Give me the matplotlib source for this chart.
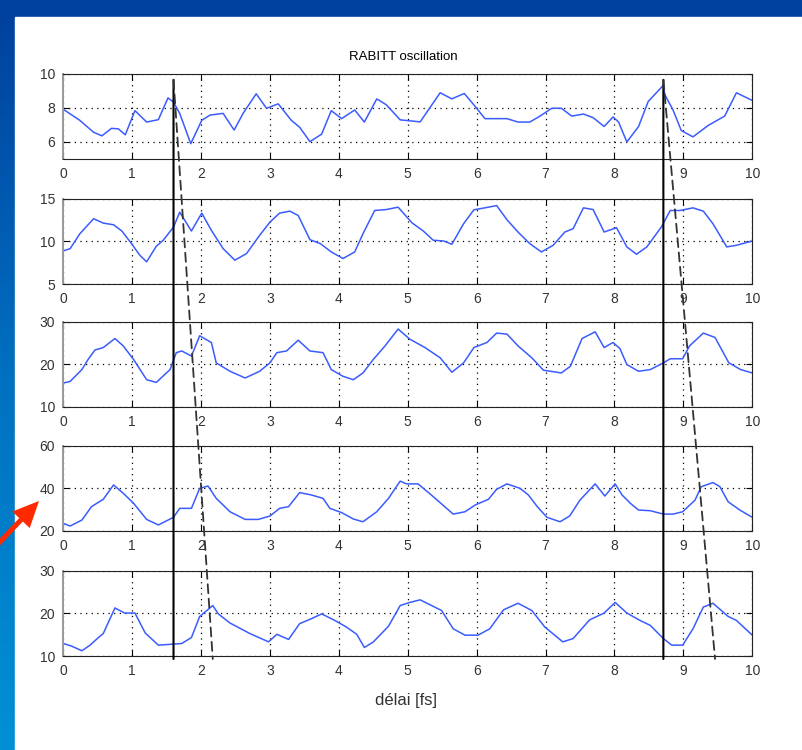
########################################################
# RABITT oscillation - five stacked traces vs delay
import numpy as np
import matplotlib.pyplot as plt
from matplotlib.patches import ConnectionPatch, Rectangle

plt.rcParams['font.family'] = ['Liberation Sans', 'DejaVu Sans']

########################################################
# Data (delay in fs, signal)
t1 = [0, 0.24, 0.44, 0.56, 0.70, 0.80, 0.90, 1.04, 1.21, 1.38, 1.52, 1.60, 1.69, 1.85, 2.01, 2.13, 2.32, 2.48, 2.61, 2.80,
      2.95, 3.12, 3.31, 3.43, 3.58, 3.75, 3.89, 4.04, 4.23, 4.37, 4.55, 4.69, 4.89, 5.18, 5.47, 5.64, 5.82, 5.98, 6.12, 6.44,
      6.60, 6.77, 6.92, 7.09, 7.23, 7.38, 7.55, 7.69, 7.85, 7.98, 8.06, 8.18, 8.35, 8.49, 8.71, 8.73, 8.85, 8.97, 9.14, 9.36,
      9.60, 9.77, 10.0]
y1 = [7.92, 7.27, 6.57, 6.36, 6.8, 6.77, 6.42, 7.84, 7.17, 7.31, 8.59, 8.34, 7.68, 5.9, 7.27, 7.58, 7.68, 6.7, 7.68, 8.83,
      7.98, 8.24, 7.27, 6.87, 6.02, 6.46, 7.84, 7.37, 7.88, 7.17, 8.53, 8.18, 7.3, 7.18, 8.89, 8.53, 8.85, 8.08, 7.37, 7.37,
      7.17, 7.17, 7.52, 7.98, 7.98, 7.52, 7.64, 7.43, 6.91, 7.47, 7.17, 6.0, 6.91, 8.38, 9.33, 8.79, 7.88, 6.67, 6.30, 6.97,
      7.52, 8.89, 8.44]

t2 = [0, 0.10, 0.24, 0.44, 0.58, 0.73, 0.85, 0.99, 1.11, 1.21, 1.35, 1.45, 1.60, 1.69, 1.86, 2.01, 2.15, 2.32, 2.49, 2.66,
      2.85, 3.00, 3.14, 3.29, 3.41, 3.58, 3.73, 3.89, 4.06, 4.23, 4.35, 4.52, 4.69, 4.86, 5.06, 5.23, 5.37, 5.52, 5.64, 5.81,
      5.96, 6.12, 6.29, 6.44, 6.60, 6.77, 6.94, 7.11, 7.28, 7.40, 7.55, 7.69, 7.85, 8.03, 8.18, 8.32, 8.47, 8.68, 8.81, 8.95,
      9.14, 9.29, 9.43, 9.63, 9.77, 10.0]
y2 = [8.89, 9.16, 10.9, 12.67, 12.16, 11.96, 11.23, 9.75, 8.39, 7.61, 9.44, 10.14, 11.69, 13.44, 11.23, 13.33, 11.3, 9.16,
      7.8, 8.58, 10.72, 12.28, 13.33, 13.56, 13.05, 10.21, 9.75, 8.77, 8.0, 8.77, 10.91, 13.64, 13.75, 14.03, 12.2, 11.2,
      10.14, 10.06, 9.67, 12.08, 13.72, 13.95, 14.22, 12.55, 11.11, 9.75, 8.77, 9.55, 11.11, 11.5, 13.95, 13.75, 11.11,
      11.61, 9.36, 8.5, 9.36, 11.69, 13.64, 13.64, 13.95, 13.56, 12.08, 9.36, 9.55, 10.06]

t3 = [0, 0.10, 0.27, 0.36, 0.46, 0.58, 0.75, 0.87, 1.02, 1.21, 1.35, 1.55, 1.64, 1.72, 1.86, 1.98, 2.15, 2.22, 2.42, 2.64,
      2.85, 3.00, 3.10, 3.24, 3.41, 3.58, 3.77, 3.89, 4.06, 4.21, 4.35, 4.50, 4.67, 4.86, 5.03, 5.25, 5.47, 5.64, 5.81, 5.96,
      6.15, 6.29, 6.44, 6.60, 6.80, 6.97, 7.23, 7.36, 7.53, 7.72, 7.85, 7.98, 8.08, 8.18, 8.35, 8.52, 8.71, 8.81, 8.99, 9.09,
      9.29, 9.46, 9.66, 9.83, 10.0]
y3 = [15.56, 15.95, 18.73, 21.1, 23.33, 23.89, 26.03, 24.29, 21.11, 16.35, 15.71, 18.73, 22.7, 23.1, 21.9, 26.67, 25.08,
      20.3, 18.33, 16.75, 18.33, 20.32, 22.7, 23.1, 25.63, 23.1, 22.7, 18.73, 17.14, 16.35, 17.94, 21.11, 24.29, 28.25,
      25.87, 23.9, 21.5, 18.1, 20.3, 23.9, 25.1, 27.3, 27.06, 24.3, 21.5, 18.57, 17.94, 19.5, 26.03, 27.6, 23.9, 25.1,
      23.65, 19.9, 18.33, 18.73, 20.3, 21.27, 21.27, 24.29, 27.3, 26.27, 20.32, 18.73, 17.94]

t4 = [0, 0.10, 0.27, 0.41, 0.58, 0.73, 0.87, 1.02, 1.21, 1.38, 1.60, 1.69, 1.86, 1.98, 2.10, 2.22, 2.42, 2.64, 2.83, 3.00,
      3.14, 3.27, 3.43, 3.60, 3.77, 3.87, 4.04, 4.21, 4.35, 4.55, 4.72, 4.89, 4.98, 5.15, 5.37, 5.66, 5.83, 5.98, 6.17, 6.29,
      6.44, 6.63, 6.75, 6.88, 7.02, 7.21, 7.35, 7.50, 7.72, 7.86, 8.01, 8.11, 8.23, 8.35, 8.52, 8.71, 8.85, 8.99, 9.17, 9.26,
      9.43, 9.53, 9.65, 9.82, 10.0]
y4 = [23.45, 22.2, 25.0, 31.3, 34.75, 41.5, 37.6, 32.9, 25.3, 22.7, 26.3, 30.5, 30.5, 39.9, 41.0, 35.2, 28.9, 25.3, 25.3,
      26.9, 30.5, 31.3, 37.9, 36.8, 35.2, 30.5, 28.5, 25.5, 24.2, 28.9, 35.2, 43.3, 42.0, 42.0, 36.0, 27.8, 28.9, 32.1,
      34.75, 39.45, 42.0, 39.9, 36.8, 31.3, 26.3, 24.2, 26.9, 34.4, 42.0, 36.3, 42.0, 36.8, 32.9, 29.7, 29.4, 27.8, 27.8,
      28.9, 34.4, 40.7, 42.6, 40.7, 33.6, 29.7, 26.3]

t5 = [0, 0.12, 0.27, 0.39, 0.51, 0.58, 0.75, 0.89, 1.04, 1.19, 1.38, 1.60, 1.72, 1.86, 1.98, 2.17, 2.25, 2.42, 2.71, 2.98,
      3.10, 3.27, 3.43, 3.60, 3.75, 3.94, 4.11, 4.26, 4.37, 4.50, 4.72, 4.89, 5.03, 5.18, 5.49, 5.66, 5.83, 6.02, 6.19, 6.39,
      6.60, 6.80, 6.99, 7.25, 7.40, 7.64, 7.85, 8.01, 8.18, 8.37, 8.52, 8.71, 8.83, 8.99, 9.14, 9.29, 9.43, 9.65, 9.77, 10.0]
y5 = [12.95, 12.33, 11.24, 12.56, 14.34, 15.27, 21.3, 20.1, 20.1, 15.4, 12.56, 12.8, 12.95, 14.34, 19.3, 21.86, 19.9,
      17.75, 15.27, 13.33, 15.1, 13.9, 17.6, 18.76, 19.9, 18.37, 16.8, 15.1, 12.0, 13.3, 17.0, 21.86, 22.6, 23.2, 20.7,
      16.4, 14.9, 14.9, 16.4, 20.85, 22.4, 20.7, 16.8, 13.33, 14.1, 18.5, 20.1, 22.6, 20.1, 18.37, 17.2, 14.1, 12.56,
      12.56, 16.4, 21.5, 22.4, 19.3, 18.37, 14.9]

ylims = [(5, 10), (5, 15), (10, 30), (20, 60), (10, 30)]
yticks = [[6, 8, 10], [5, 10, 15], [10, 20, 30], [20, 40, 60], [10, 20, 30]]
xticks = list(range(0, 11))

# markers for the phase shift (delay values)
vline_x = [1.60, 8.71]
dash_end_x = [2.17, 9.46]

########################################################
# Figure and slide-like background
fig = plt.figure(figsize=(8.03, 7.5), dpi=100)
bg = fig.add_axes([0, 0, 1, 1], zorder=-10)
bg.set_xlim(0, 803)
bg.set_ylim(750, 0)
bg.axis('off')
grad = np.linspace(0, 1, 256).reshape(-1, 1)
from matplotlib.colors import LinearSegmentedColormap
cm = LinearSegmentedColormap.from_list('slide', ['#003f9e', '#0070c0', '#0090d6'])
bg.imshow(grad, cmap=cm, extent=[0, 15, 750, 0], aspect='auto')
bg.add_patch(Rectangle((0, 0), 803, 17, color='#0041a0'))
bg.add_patch(Rectangle((15, 17), 788, 733, color='white'))
bg.arrow(-4, 546, 43, -45, width=5, head_width=24, head_length=26,
         length_includes_head=True, color='#ff2a00', lw=0)

########################################################
# The five traces
bottoms = [0.788, 0.6213, 0.4577, 0.2924, 0.1253]
series = [(t1, y1), (t2, y2), (t3, y3), (t4, y4), (t5, y5)]
axes = []
for k in range(5):
    ax = fig.add_axes([0.0788, bottoms[k], 0.858, 0.1135])
    t, y = series[k]
    ax.plot(t, y, color='#3a5cff', lw=1.1)
    ax.set_xlim(0, 10)
    ax.set_ylim(*ylims[k])
    ax.set_xticks(xticks)
    ax.set_yticks(yticks[k])
    ax.grid(True, color='k', linestyle=(0, (1, 3.5)), linewidth=0.9)
    ax.tick_params(direction='in', length=4, top=True, right=True,
                   labelsize=10, labelcolor='#333333', pad=6)
    for s in ['top', 'right', 'bottom']:
        ax.spines[s].set_color('#222222')
    ax.spines['left'].set_color('#999999')
    ax.spines['left'].set_linewidth(1.4)
    axes.append(ax)

fig.text(0.502, 1 - 57 / 750, 'RABITT oscillation', ha='center', va='center', fontsize=9.5)
fig.text(0.505, 1 - 700 / 750, 'délai [fs]', ha='center', va='center', fontsize=12, color='#333333')

########################################################
# Solid and dashed guide lines spanning all panels
for i in range(2):
    con = ConnectionPatch(xyA=(vline_x[i], 9.65), coordsA=axes[0].transData,
                          xyB=(vline_x[i], 9.3), coordsB=axes[4].transData,
                          color='k', lw=1.5)
    fig.add_artist(con)
    con = ConnectionPatch(xyA=(vline_x[i], 9.65), coordsA=axes[0].transData,
                          xyB=(dash_end_x[i], 9.3), coordsB=axes[4].transData,
                          color='#333333', lw=1.3, linestyle=(0, (5, 3)))
    fig.add_artist(con)

plt.savefig('out.png', dpi=100)
